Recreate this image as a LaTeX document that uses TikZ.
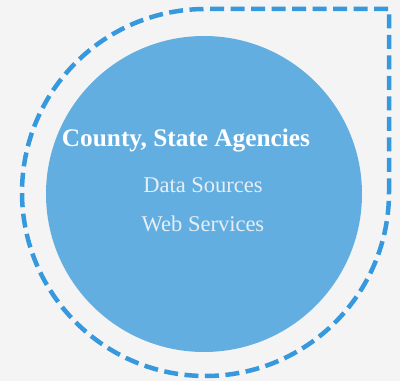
\documentclass[tikz,border=0pt]{standalone}
\usepackage{fontspec}
\setmainfont{Liberation Serif}
\definecolor{bg}{HTML}{F4F4F4}
\definecolor{fillblue}{HTML}{63AEE1}
\definecolor{dashblue}{HTML}{3699DE}
\definecolor{subtxt}{HTML}{E6EEF4}
\tikzset{
  dashring/.style={draw=dashblue, line width=4.5pt, dash pattern=on 14pt off 6.5pt, line join=miter},
  title/.style={text=white, font=\fontsize{25.3}{28}\selectfont\bfseries, inner sep=0pt},
  sub/.style={text=subtxt, font=\fontsize{22.5}{26}\selectfont, inner sep=0pt}
}
\begin{document}
\begin{tikzpicture}[x=1pt,y=1pt]
\fill[bg] (0,0) rectangle (400,381);
\useasboundingbox (0,0) rectangle (400,381);
\draw[dashring] (389,188.5) -- (389,372) -- (205.5,372) arc[start angle=90, end angle=360, radius=183.5];
\node[circle, fill=fillblue, minimum size=316pt, inner sep=0pt] (disc) at (204,187) {};
\node[title] (t) at (186,240) {County, State Agencies};
\node[sub] (d) at (203,196) {Data Sources};
\node[sub] (w) at (203,157) {Web Services};
\end{tikzpicture}
\end{document}
